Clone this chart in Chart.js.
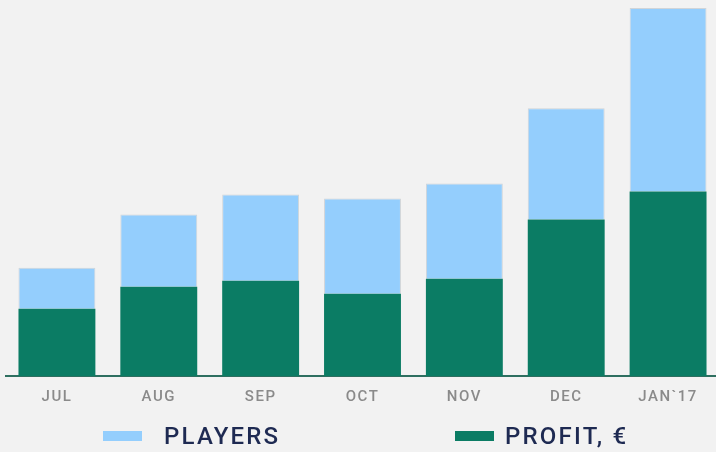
<!DOCTYPE html>
<html>
<head>
<meta charset="utf-8">
<script src="https://cdn.jsdelivr.net/npm/chart.js@4"></script>
<style>
  html, body { margin: 0; padding: 0; background: #f2f2f2; overflow: hidden; }
  #wrap { position: relative; width: 716px; height: 452px; overflow: hidden; }
  canvas { position: absolute; left: 0; top: 0; }
  .key span { position: absolute; }
  .key .box { width: 39px; height: 10px; top: 431px; }
  .key .txt { top: 422px; font: 500 24px Roboto, sans-serif; color: #1e2a52; letter-spacing: 2.2px; }
</style>
</head>
<body>
<div id="wrap">
  <canvas id="c" width="722" height="452"></canvas>
  <div class="key" id="key"></div>
</div>
<script>
const months = ['JUL', 'AUG', 'SEP', 'OCT', 'NOV', 'DEC', 'JAN`17'];
const profit = [67, 89, 95, 82, 97, 156, 184];
const players = [41, 72, 86, 95, 95, 111, 183];

const green = '#0b7c64';
const blue = '#94cefd';

// legend drawn as html under the canvas
const key = document.getElementById('key');
const keyItems = [
  { label: 'PLAYERS', colour: blue, x: 103, tx: 164 },
  { label: 'PROFIT, €', colour: green, x: 455, tx: 505 },
];
for (const item of keyItems) {
  const box = document.createElement('span');
  box.className = 'box';
  box.style.left = item.x + 'px';
  box.style.background = item.colour;
  const txt = document.createElement('span');
  txt.className = 'txt';
  txt.style.left = item.tx + 'px';
  txt.textContent = item.label;
  key.append(box, txt);
}

// spread out the tick letters a little, like the original
const spacing = {
  id: 'spacing',
  beforeDraw(chart) {
    chart.ctx.letterSpacing = '1.5px';
  },
};

new Chart(document.getElementById('c'), {
  type: 'bar',
  data: {
    labels: months,
    datasets: [
      {
        label: 'PROFIT, €',
        data: profit,
        backgroundColor: green,
        borderWidth: 0,
      },
      {
        label: 'PLAYERS',
        data: players,
        backgroundColor: blue,
        borderColor: '#d0d4d8',
        borderWidth: { top: 1, left: 1, right: 1, bottom: 0 },
      },
    ],
  },
  options: {
    responsive: false,
    animation: false,
    categoryPercentage: 0.755,
    barPercentage: 1,
    layout: { padding: { left: 6, right: 3, top: 8, bottom: 34 } },
    plugins: {
      legend: { display: false },
      tooltip: { enabled: false },
    },
    scales: {
      x: {
        stacked: true,
        grid: { display: false, drawTicks: false },
        border: { display: true, color: '#2e6f60', width: 2 },
        ticks: {
          color: '#8a8a8a',
          padding: 12,
          font: { family: 'Roboto', size: 15, weight: '500' },
        },
      },
      y: {
        stacked: true,
        display: false,
        min: 0,
        max: 367,
      },
    },
  },
  plugins: [spacing],
});
</script>
</body>
</html>
